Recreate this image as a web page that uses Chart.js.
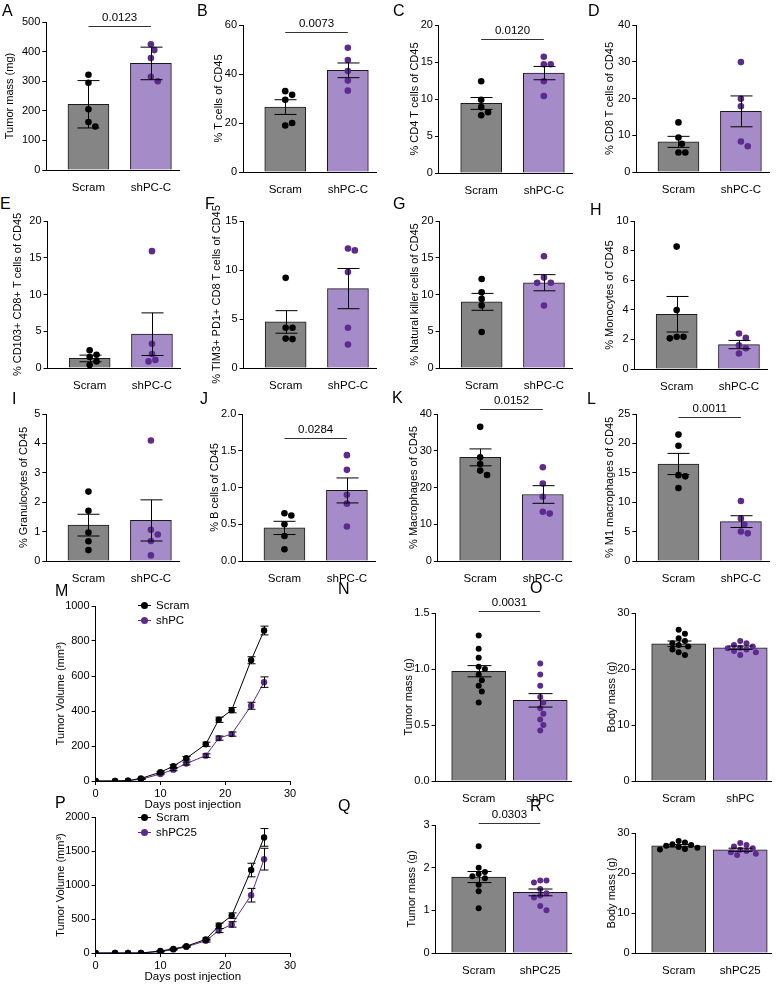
<!DOCTYPE html>
<html lang="en">
<head>
<meta charset="UTF-8">
<title>Tumour immune profiling panels</title>
<script src="https://cdn.jsdelivr.net/npm/chart.js@4.4.1/dist/chart.umd.min.js"></script>
<style>
    body { margin: 0; background: #fff; font-family: "Liberation Sans", Arial, sans-serif; }
    #fig { position: relative; width: 784px; height: 984px; overflow: hidden; }
    #fig canvas { position: absolute; }
    .letter { position: absolute; font-size: 16px; line-height: 16px; color: #000; }
    .leg { position: absolute; font-size: 11.5px; line-height: 15px; color: #000; }
    .sym { display: inline-block; position: relative; width: 13px; height: 1px; vertical-align: middle; margin-right: 5px; }
    .sym::after { content: ''; position: absolute; left: 3px; top: -3px; width: 7px; height: 7px; border-radius: 50%; background: inherit; }
</style>
</head>
<body>
<div id="fig"></div>
<script>
// ---- data ----
const groupsC = ['Scram', 'shPC-C'];
const groupsN = ['Scram', 'shPC'];
const groupsQ = ['Scram', 'shPC25'];

// A tumour mass (mg), error = SD
const aScram = [322, 295, 205, 162, 147];
const aShpc = [425, 405, 378, 315, 300];
const aBar = [222, 360];
const aErr = [80, 55];
// B % T cells
const bScram = [33, 31.5, 29.5, 19, 20];
const bShpc = [50.7, 45.7, 41.2, 37.3, 33.2];
const bBar = [26.5, 41.5];
const bErr = [3, 3];
// C % CD4 T cells
const cScram = [12.4, 9.9, 8.9, 8.2, 7.8];
const cShpc = [15.7, 14.7, 14.7, 12.4, 10.4];
const cBar = [9.4, 13.5];
const cErr = [0.8, 0.9];
// D % CD8 T cells
const dScram = [13.5, 9.4, 7.7, 5.3, 5.3];
const dShpc = [29.9, 19.9, 17.9, 8.3, 7.0];
const dBar = [8.2, 16.5];
const dErr = [1.5, 4.2];
// E % CD103+ CD8+
const eScram = [2.4, 1.8, 1.5, 0.9, 0.4];
const eShpc = [15.9, 3.3, 1.9, 1.1, 0.9];
const eBar = [1.3, 4.6];
const eErr = [0.45, 2.9];
// F % TIM3+ PD1+ CD8
const fScram = [9.2, 4.1, 4.1, 3.0, 2.95];
const fShpc = [12.2, 12.0, 9.8, 4.1, 2.4];
const fBar = [4.7, 8.1];
const fErr = [1.15, 2.05];
// G % NK cells
const gScram = [12.1, 10.3, 9.4, 8.5, 4.9];
const gShpc = [15.2, 12.3, 11.6, 11.6, 8.5];
const gBar = [9.0, 11.6];
const gErr = [1.15, 1.1];
// H % monocytes
const hScram = [8.27, 3.98, 2.18, 2.18, 2.07];
const hShpc = [2.4, 2.1, 1.6, 1.4, 1.05];
const hBar = [3.7, 1.65];
const hErr = [1.2, 0.28];
// I % granulocytes
const iScram = [2.36, 1.71, 0.97, 0.67, 0.37];
const iShpc = [4.1, 1.06, 0.9, 0.68, 0.19];
const iBar = [1.22, 1.38];
const iErr = [0.37, 0.7];
// J % B cells
const jScram = [0.65, 0.62, 0.5, 0.34, 0.16];
const jShpc = [1.44, 1.24, 0.9, 0.78, 0.47];
const jBar = [0.45, 0.96];
const jErr = [0.09, 0.17];
// K % macrophages
const kScram = [36.5, 28.2, 26.4, 24.6, 23.4];
const kShpc = [25.5, 21.1, 17.5, 13.4, 12.9];
const kBar = [28.2, 18.1];
const kErr = [2.3, 2.4];
// L % M1 macrophages
const lScram = [21.5, 19.6, 14.6, 14.4, 12.4];
const lShpc = [10.2, 7.2, 6.2, 5.0, 4.7];
const lBar = [16.5, 6.7];
const lErr = [1.8, 1.0];

// M tumour growth (mm3)
const days = [0, 3, 5, 7, 10, 12, 14, 17, 19, 21, 24, 26];
const mScram = [0, 0, 2, 15, 50, 85, 130, 210, 350, 405, 690, 860];
const mShpc = [0, 0, 2, 10, 40, 65, 100, 145, 245, 268, 430, 565];
const mScramErr = [0, 0, 0, 2, 5, 8, 10, 12, 15, 15, 20, 25];
const mShpcErr = [0, 0, 0, 2, 4, 6, 8, 10, 12, 12, 20, 30];
// N tumour mass (g)
const nScram = [1.3, 1.18, 1.1, 1.02, 1.0, 0.95, 0.9, 0.85, 0.8, 0.7];
const nShpc = [1.05, 0.95, 0.85, 0.75, 0.7, 0.65, 0.6, 0.55, 0.5, 0.45];
const nBar = [0.98, 0.72];
const nErr = [0.05, 0.06];
// O body mass (g)
const oScram = [27, 26.3, 25.5, 25, 24.6, 24.3, 24, 23.5, 23, 22.5];
const oShpc = [25, 24.6, 24.3, 24, 23.8, 23.7, 23.5, 23.2, 23, 22.5];
const oBar = [24.5, 23.8];
const oErr = [0.5, 0.3];
// P tumour growth (mm3)
const pScram = [0, 0, 0, 0, 30, 60, 100, 200, 400, 550, 1220, 1700];
const pShpc = [0, 0, 0, 0, 20, 50, 90, 180, 330, 420, 850, 1380];
const pScramErr = [0, 0, 0, 0, 5, 8, 10, 20, 40, 40, 100, 130];
const pShpcErr = [0, 0, 0, 0, 5, 8, 10, 20, 30, 40, 100, 160];
// Q tumour mass (g)
const qScram = [2.5, 2.0, 1.9, 1.85, 1.8, 1.75, 1.6, 1.45, 1.05];
const qShpc = [1.7, 1.7, 1.65, 1.5, 1.4, 1.35, 1.3, 1.1, 1.0];
const qBar = [1.78, 1.42];
const qErr = [0.13, 0.08];
// R body mass (g)
const rScram = [28, 27.6, 27.2, 27, 26.8, 26.5, 26.3, 26, 25.9];
const rShpc = [27.5, 27, 26.6, 26.2, 25.8, 25.5, 25.2, 24.8, 24.5];
const rBar = [26.8, 25.8];
const rErr = [0.3, 0.4];

// ---- drawing ----
const fig = document.getElementById('fig');
const GRAY = '#858585', LILAC = '#a68bc9', PURPLE = '#5d2b8f';
const FONT = 'Liberation Sans, Arial, sans-serif';

function letter(t, x, y) {
    const d = document.createElement('div');
    d.className = 'letter';
    d.textContent = t;
    d.style.left = x + 'px';
    d.style.top = (y - 2) + 'px';
    fig.appendChild(d);
}

// spread dots sideways where they would overlap (GraphPad style)
function swarm(vals, center, pxY, pxX, dia) {
    const placed = [];
    const step = dia * 1.05 / pxX;
    vals.forEach(v => {
        const offs = [0];
        for (let i = 1; i < 8; i++) offs.push(i * step / 2, -i * step / 2);
        for (const o of offs) {
            const hit = placed.some(p => Math.hypot((p.x - center - o) * pxX, (p.y - v) * pxY) < dia);
            if (!hit) { placed.push({ x: center + o, y: v }); break; }
        }
    });
    return placed;
}

function marks(cfg) {
    return {
        id: 'marks',
        afterDatasetsDraw(chart) {
            const ctx = chart.ctx, xs = chart.scales.x, ys = chart.scales.y;
            ctx.save();
            ctx.strokeStyle = '#000';
            ctx.lineWidth = 1;
            cfg.err.forEach(e => {
                const px = Math.round(xs.getPixelForValue(e.x)) + 0.5;
                const hi = ys.getPixelForValue(e.y + e.e), lo = ys.getPixelForValue(e.y - e.e);
                ctx.beginPath();
                ctx.moveTo(px, lo); ctx.lineTo(px, hi);
                ctx.moveTo(px - cfg.cap, hi); ctx.lineTo(px + cfg.cap, hi);
                ctx.moveTo(px - cfg.cap, lo); ctx.lineTo(px + cfg.cap, lo);
                ctx.stroke();
            });
            if (cfg.p) {
                const y = Math.round(ys.getPixelForValue(cfg.pY)) + 0.5;
                const x0 = xs.getPixelForValue(0), x1 = xs.getPixelForValue(1);
                ctx.strokeStyle = '#333';
                ctx.beginPath(); ctx.moveTo(x0, y); ctx.lineTo(x1, y); ctx.stroke();
                ctx.fillStyle = '#000';
                ctx.font = '11.5px ' + FONT;
                ctx.textAlign = 'center';
                ctx.textBaseline = 'alphabetic';
                ctx.fillText(cfg.p, (x0 + x1) / 2, y - 6);
            }
            ctx.restore();
        }
    };
}

function yAxis(c, yW) {
    return {
        min: c.yMin || 0, max: c.yMax,
        ticks: { stepSize: c.step, color: '#000', font: { size: 11, family: FONT }, padding: 2,
                 callback: v => v.toFixed(c.dec || 0) },
        grid: { drawOnChartArea: false, drawTicks: true, tickLength: 4, color: '#000' },
        border: { color: '#000', width: 1 },
        title: { display: true, text: c.title, color: '#000', font: { size: 11, family: FONT }, padding: 0 },
        afterFit: s => { s.width = yW; }
    };
}

function barPanel(c) {
    const unit = c.unit || 63, xmin = c.xmin || -0.675, xmax = c.xmax || 1.45;
    const padTop = 20, xH = 24;
    const yW = c.titleDist + 6.6;
    const plotW = unit * (xmax - xmin), plotH = c.bottom - c.top;
    const cv = document.createElement('canvas');
    cv.width = Math.round(yW + plotW + 3);
    cv.height = Math.round(padTop + plotH + xH);
    cv.style.left = (c.axisX - yW) + 'px';
    cv.style.top = (c.top - padTop) + 'px';
    fig.appendChild(cv);
    const pxY = plotH / (c.yMax - (c.yMin || 0));
    const dia = (c.r || 3.3) * 2;
    new Chart(cv, {
        type: 'bar',
        data: {
            datasets: [
                { type: 'bar', data: [{ x: 0, y: c.bar[0] }, { x: 1, y: c.bar[1] }],
                  backgroundColor: [GRAY, LILAC], borderColor: '#1a1a1a', borderWidth: 1,
                  barThickness: c.bw || 41, order: 2 },
                { type: 'scatter', data: swarm(c.a, 0, pxY, unit, dia), pointRadius: c.r || 3.3,
                  pointBackgroundColor: '#000', pointBorderWidth: 0, order: 1 },
                { type: 'scatter', data: swarm(c.b, 1, pxY, unit, dia), pointRadius: c.r || 3.3,
                  pointBackgroundColor: PURPLE, pointBorderWidth: 0, order: 0 }
            ]
        },
        options: {
            responsive: false, animation: false, events: [],
            layout: { padding: { top: padTop, right: 3, bottom: 0, left: 0 } },
            plugins: { legend: { display: false }, tooltip: { enabled: false } },
            scales: {
                x: {
                    type: 'linear', min: xmin, max: xmax, offset: false,
                    afterBuildTicks: s => { s.ticks = [{ value: 0 }, { value: 1 }]; },
                    ticks: { color: '#000', font: { size: 11.5, family: FONT }, padding: 3,
                             autoSkip: false, maxRotation: 0, callback: v => c.groups[v] },
                    grid: { display: false, offset: false },
                    border: { color: '#000', width: 1 },
                    afterFit: s => { s.height = xH; }
                },
                y: yAxis(c, yW)
            }
        },
        plugins: [marks({ cap: c.cap || 11, p: c.p, pY: c.pY,
            err: [{ x: 0, y: c.bar[0], e: c.err[0] }, { x: 1, y: c.bar[1], e: c.err[1] }] })]
    });
}

function growthPanel(c) {
    const padTop = 14, xH = 31;
    const yW = c.titleDist + 6.6;
    const plotW = c.right - c.axisX, plotH = c.bottom - c.top;
    const cv = document.createElement('canvas');
    cv.width = Math.round(yW + plotW + 10);
    cv.height = Math.round(padTop + plotH + xH);
    cv.style.left = (c.axisX - yW) + 'px';
    cv.style.top = (c.top - padTop) + 'px';
    fig.appendChild(cv);
    const pts = (ys) => days.map((d, i) => ({ x: d, y: ys[i] }));
    const errs = [];
    days.forEach((d, i) => {
        if (c.aErr[i]) errs.push({ x: d, y: c.a[i], e: c.aErr[i] });
        if (c.bErr[i]) errs.push({ x: d, y: c.b[i], e: c.bErr[i] });
    });
    new Chart(cv, {
        type: 'line',
        data: {
            datasets: [
                { data: pts(c.a), borderColor: '#000', backgroundColor: '#000', borderWidth: 1,
                  pointRadius: 3.2, pointBorderWidth: 0, tension: 0 },
                { data: pts(c.b), borderColor: PURPLE, backgroundColor: PURPLE, borderWidth: 1,
                  pointRadius: 3.2, pointBorderWidth: 0, tension: 0 }
            ]
        },
        options: {
            responsive: false, animation: false, events: [],
            layout: { padding: { top: padTop, right: 10, bottom: 0, left: 0 } },
            plugins: { legend: { display: false }, tooltip: { enabled: false } },
            scales: {
                x: {
                    type: 'linear', min: 0, max: 30,
                    ticks: { stepSize: 10, color: '#000', font: { size: 11, family: FONT }, padding: 2 },
                    grid: { drawOnChartArea: false, drawTicks: true, tickLength: 4, color: '#000' },
                    border: { color: '#000', width: 1 },
                    title: { display: true, text: 'Days post injection', color: '#000',
                             font: { size: 11.5, family: FONT }, padding: { top: 0, bottom: 0 } },
                    afterFit: s => { s.height = xH; }
                },
                y: yAxis(c, yW)
            }
        },
        plugins: [marks({ cap: 4, err: errs })]
    });
    const leg = document.createElement('div');
    leg.className = 'leg';
    leg.style.left = c.legX + 'px';
    leg.style.top = c.legY + 'px';
    leg.innerHTML = '<div><span class="sym" style="background:#000"></span>Scram</div>' +
        '<div><span class="sym" style="background:' + PURPLE + '"></span>' + c.legB + '</div>';
    fig.appendChild(leg);
}

// row 1
barPanel({ groups: groupsC, a: aScram, b: aShpc, bar: aBar, err: aErr, axisX: 46.7, top: 22, bottom: 170,
    yMax: 500, step: 100, title: 'Tumor mass (mg)', titleDist: 36.7, p: '0.0123', pY: 486 });
barPanel({ groups: groupsC, a: bScram, b: bShpc, bar: bBar, err: bErr, axisX: 242.7, top: 25, bottom: 172.3,
    yMax: 60, step: 20, title: '% T cells of CD45', titleDist: 24.4, p: '0.0073', pY: 57 });
barPanel({ groups: groupsC, a: cScram, b: cShpc, bar: cBar, err: cErr, axisX: 439.3, top: 24.7, bottom: 172.3,
    yMax: 20, step: 5, title: '% CD4 T cells of CD45', titleDist: 24.3, p: '0.0120', pY: 18.1 });
barPanel({ groups: groupsC, a: dScram, b: dShpc, bar: dBar, err: dErr, axisX: 636.7, top: 25, bottom: 172.3,
    yMax: 40, step: 10, title: '% CD8 T cells of CD45', titleDist: 26.7 });
// row 2
barPanel({ groups: groupsC, a: eScram, b: eShpc, bar: eBar, err: eErr, axisX: 47.7, top: 221, bottom: 368.3,
    yMax: 20, step: 5, title: '% CD103+ CD8+ T cells of CD45', titleDist: 30 });
barPanel({ groups: groupsC, a: fScram, b: fShpc, bar: fBar, err: fErr, axisX: 243.3, top: 221, bottom: 368.3,
    yMax: 15, step: 5, title: '% TIM3+ PD1+ CD8 T cells of CD45', titleDist: 27 });
barPanel({ groups: groupsC, a: gScram, b: gShpc, bar: gBar, err: gErr, axisX: 439.3, top: 221, bottom: 368.3,
    yMax: 20, step: 5, title: '% Natural killer cells of CD45', titleDist: 25 });
barPanel({ groups: groupsC, a: hScram, b: hShpc, bar: hBar, err: hErr, axisX: 635, top: 220.7, bottom: 368.3,
    yMax: 10, step: 2, title: '% Monocytes of CD45', titleDist: 25 });
// row 3
barPanel({ groups: groupsC, a: iScram, b: iShpc, bar: iBar, err: iErr, axisX: 46.7, top: 414, bottom: 561.3,
    yMax: 5, step: 1, title: '% Granulocytes of CD45', titleDist: 22.7 });
barPanel({ groups: groupsC, a: jScram, b: jShpc, bar: jBar, err: jErr, axisX: 242.7, top: 414, bottom: 561.3,
    yMax: 2, step: 0.5, dec: 1, title: '% B cells of CD45', titleDist: 27.7, p: '0.0284', pY: 1.68 });
barPanel({ groups: groupsC, a: kScram, b: kShpc, bar: kBar, err: kErr, axisX: 438.3, top: 414, bottom: 561.3,
    yMax: 40, step: 10, title: '% Macrophages of CD45', titleDist: 24.3, p: '0.0152', pY: 41.3 });
barPanel({ groups: groupsC, a: lScram, b: lShpc, bar: lBar, err: lErr, axisX: 636.7, top: 414, bottom: 561.3,
    yMax: 25, step: 5, title: '% M1 macrophages of CD45', titleDist: 26.7, p: '0.0011', pY: 24.5 });
// row 4
const wide = { unit: 62, bw: 54, xmin: -0.7, xmax: 1.5, cap: 12, r: 3 };
growthPanel({ a: mScram, b: mShpc, aErr: mScramErr, bErr: mShpcErr, axisX: 96, right: 290, top: 606, bottom: 781,
    yMax: 1000, step: 200, title: 'Tumor Volume (mm³)', titleDist: 35, legX: 138, legY: 598, legB: 'shPC' });
barPanel({ ...wide, groups: groupsN, a: nScram, b: nShpc, bar: nBar, err: nErr, axisX: 436, top: 613, bottom: 781,
    yMax: 1.5, step: 0.5, dec: 1, title: 'Tumor mass (g)', titleDist: 27, p: '0.0031', pY: 1.52 });
barPanel({ ...wide, groups: groupsN, a: oScram, b: oShpc, bar: oBar, err: oErr, axisX: 636, top: 613, bottom: 781,
    yMax: 30, step: 10, title: 'Body mass (g)', titleDist: 24 });
// row 5
growthPanel({ a: pScram, b: pShpc, aErr: pScramErr, bErr: pShpcErr, axisX: 96, right: 290, top: 817, bottom: 953,
    yMax: 2000, step: 500, title: 'Tumor Volume (mm³)', titleDist: 35, legX: 138, legY: 810, legB: 'shPC25' });
barPanel({ ...wide, groups: groupsQ, a: qScram, b: qShpc, bar: qBar, err: qErr, axisX: 436, top: 825, bottom: 953,
    yMax: 3, step: 1, title: 'Tumor mass (g)', titleDist: 24, p: '0.0303', pY: 3.05 });
barPanel({ ...wide, groups: groupsQ, a: rScram, b: rShpc, bar: rBar, err: rErr, axisX: 636, top: 833, bottom: 953,
    yMax: 30, step: 10, title: 'Body mass (g)', titleDist: 24 });

[['A', 2, 5], ['B', 197, 5], ['C', 393, 5], ['D', 588, 5],
 ['E', 0, 198], ['F', 205, 198], ['G', 393, 198], ['H', 590, 204],
 ['I', 12, 393], ['J', 200, 393], ['K', 392, 392], ['L', 587, 393],
 ['M', 55, 585], ['N', 338, 583], ['O', 530, 582],
 ['P', 55, 797], ['Q', 338, 800], ['R', 530, 800]].forEach(l => letter(l[0], l[1], l[2]));
</script>
</body>
</html>
